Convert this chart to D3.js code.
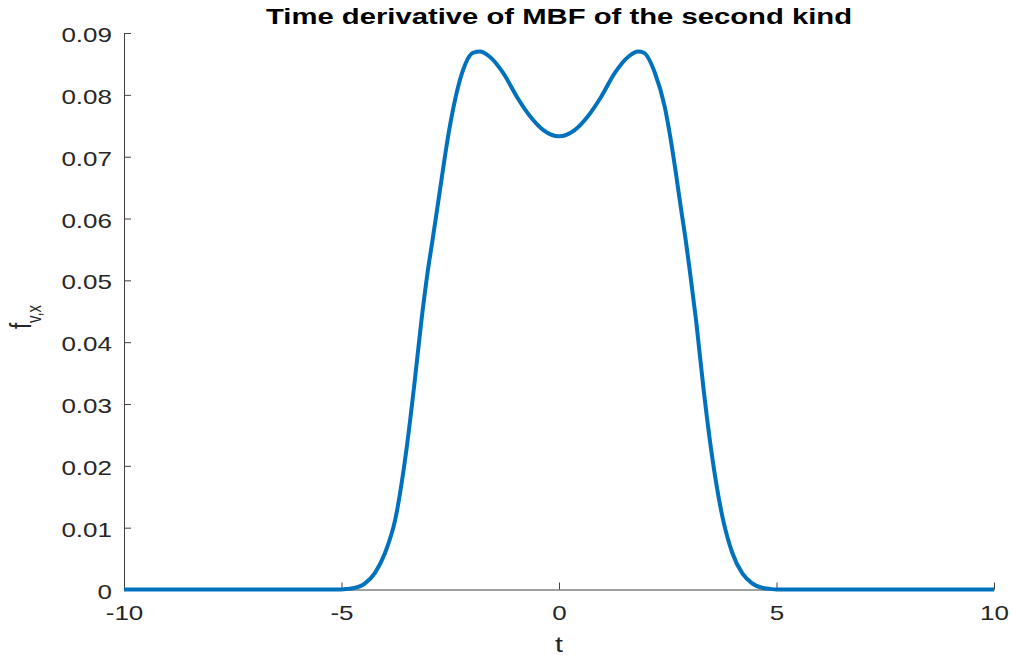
<!DOCTYPE html>
<html>
<head>
<meta charset="utf-8">
<script src="https://cdn.jsdelivr.net/npm/d3@7"></script>
<style>
  html, body { margin: 0; padding: 0; background: #fff; }
  svg { display: block; }
  text { font-family: "Liberation Sans", Arial, Helvetica, sans-serif; }
</style>
</head>
<body>
<svg id="chart" width="1012" height="655"></svg>
<script>
// Time samples t and the derivative values f_{v,x}(t)
const tValues = [
  -10, -7.5, -5, -4.85, -4.736, -4.46, -4.23, -4.0, -3.759, -3.517, -3.333, -3.161,
  -3.023, -2.908, -2.793, -2.678, -2.563, -2.425, -2.23, -1.977, -1.82, -1.6, -1.28,
  -0.97, -0.66, -0.36, 0,
  0.36, 0.66, 0.97, 1.28, 1.6, 1.82, 1.95, 2.207, 2.43, 2.57, 2.688, 2.798,
  2.913, 3.015, 3.15, 3.317, 3.51, 3.765, 3.985, 4.215, 4.44, 4.72, 4.85, 5, 7.5, 10
];
const fValues = [
  0, 0, 0, 0.0001, 0.0002, 0.0010, 0.0027, 0.0059, 0.0115, 0.0221, 0.0327, 0.0436,
  0.0512, 0.0565, 0.0619, 0.0674, 0.0727, 0.0780, 0.0835, 0.0868, 0.0870, 0.0862, 0.0835,
  0.0797, 0.0765, 0.0743, 0.0733,
  0.0743, 0.0765, 0.0797, 0.0835, 0.0862, 0.0870, 0.0868, 0.0835, 0.0781, 0.0727, 0.0673, 0.0619,
  0.0565, 0.0511, 0.0436, 0.0328, 0.0220, 0.0115, 0.0059, 0.0026, 0.0010, 0.0002, 0.0001, 0, 0, 0
];

const xTicks = [-10, -5, 0, 5, 10];
const xTickLabels = ["-10", "-5", "0", "5", "10"];
const yTicks = [0, 0.01, 0.02, 0.03, 0.04, 0.05, 0.06, 0.07, 0.08, 0.09];
const yTickLabels = ["0", "0.01", "0.02", "0.03", "0.04", "0.05", "0.06", "0.07", "0.08", "0.09"];

const titleText = "Time derivative of MBF of the second kind";
const xLabelText = "t";

const svg = d3.select("#chart");
const stretch = 1.3;           // horizontal glyph stretch of the figure text
const axisColor = "#404040";
const labelColor = "#262626";

const x = d3.scaleLinear().domain([-10, 10]).range([124, 994]);
const y = d3.scaleLinear().domain([0, 0.09]).range([589.5, 33]);

// Bottom axis with inward ticks
const gx = svg.append("g")
  .attr("transform", `translate(0,${y(0)})`)
  .call(d3.axisBottom(x)
    .tickValues(xTicks)
    .tickFormat((d, i) => xTickLabels[i])
    .tickSizeInner(-7)
    .tickSizeOuter(0)
    .tickPadding(0));

// Left axis with inward ticks
const gy = svg.append("g")
  .attr("transform", `translate(${x(-10)},0)`)
  .call(d3.axisLeft(y)
    .tickValues(yTicks)
    .tickFormat((d, i) => yTickLabels[i])
    .tickSizeInner(-7)
    .tickSizeOuter(0)
    .tickPadding(0));

[gx, gy].forEach(g => {
  g.select(".domain").attr("stroke", axisColor).attr("stroke-width", 1);
  g.selectAll(".tick line").attr("stroke", axisColor).attr("stroke-width", 1);
  g.selectAll(".tick text")
    .attr("fill", labelColor)
    .attr("font-size", 20)
    .attr("font-family", "'Liberation Sans', Arial, sans-serif");
});

gx.selectAll(".tick text")
  .attr("x", 0)
  .attr("y", 30.5)
  .attr("dy", null)
  .attr("text-anchor", "middle")
  .attr("transform", `scale(${stretch},1)`);

gy.selectAll(".tick text")
  .attr("x", -12 / stretch)
  .attr("y", 8.5)
  .attr("dy", null)
  .attr("text-anchor", "end")
  .attr("transform", `scale(${stretch},1)`);

// Curve
const pts = tValues.map((t, i) => [t, fValues[i]]);
const line = d3.line()
  .x(d => x(d[0]))
  .y(d => y(d[1]))
  .curve(d3.curveMonotoneX);

svg.append("path")
  .datum(pts)
  .attr("d", line)
  .attr("fill", "none")
  .attr("stroke", "#0072BD")
  .attr("stroke-width", 4)
  .attr("stroke-linejoin", "round")
  .attr("stroke-linecap", "butt");

// Title
svg.append("text")
  .attr("transform", `translate(${x(0)},24) scale(1.33,1)`)
  .attr("text-anchor", "middle")
  .attr("font-size", 22)
  .attr("font-weight", "bold")
  .attr("fill", "#000")
  .text(titleText);

// X axis label
svg.append("text")
  .attr("transform", `translate(${x(0)},652) scale(${stretch},1)`)
  .attr("text-anchor", "middle")
  .attr("font-size", 22)
  .attr("fill", labelColor)
  .text(xLabelText);

// Y axis label: f with subscript v,x
const yl = svg.append("text")
  .attr("transform", `translate(31,317) scale(${stretch},1) rotate(-90)`)
  .attr("text-anchor", "middle")
  .attr("font-size", 22)
  .attr("fill", labelColor);
yl.append("tspan").text("f");
yl.append("tspan").attr("font-size", 15).attr("dy", 8).text("v,x");
</script>
</body>
</html>
